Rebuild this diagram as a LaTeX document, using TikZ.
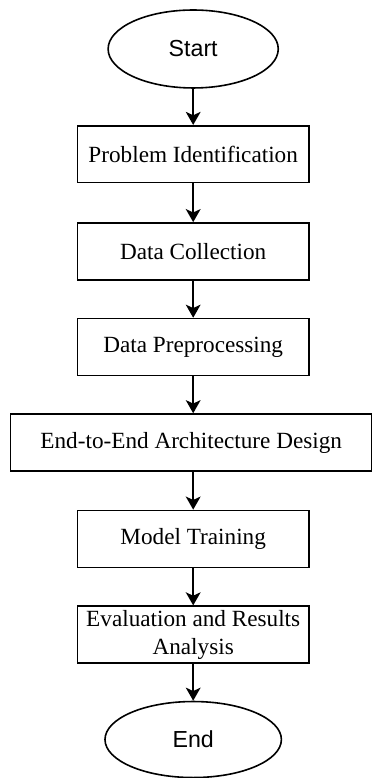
\documentclass[tikz,border=0pt]{standalone}
\usepackage{fontspec}
\setmainfont{Liberation Serif}
\newfontfamily\arialfont{Liberation Sans}
\usetikzlibrary{positioning, shapes.geometric, arrows.meta}

\begin{document}
\begin{tikzpicture}[
  font=\fontsize{11.6}{14}\selectfont,
  stepbox/.style={draw, line width=0.8pt, minimum width=4.06cm, minimum height=1.0cm, align=center, inner sep=1pt},
  terminal/.style={draw, ellipse, line width=0.8pt, font=\arialfont\fontsize{11.6}{14}\selectfont},
  flow/.style={line width=0.8pt, -{Stealth[length=0.23cm, width=0.26cm, inset=0.06cm]}}
]
\useasboundingbox (0,0) rectangle (6.537,-13.672);

% Start
\node[terminal, minimum width=2.99cm, minimum height=1.37cm] (start) at (3.395,-0.861) {Start};

% steps
\node[stepbox] (ident) at (3.395,-2.710) {Problem Identification};
\node[stepbox] (collect) at (3.395,-4.418) {Data Collection};
\node[stepbox] (prep) at (3.395,-6.098) {Data Preprocessing};
\node[stepbox, minimum width=6.344cm] (design) at (3.36,-7.776) {End-to-End Architecture Design};
\node[stepbox] (train) at (3.395,-9.470) {Model Training};
\node[stepbox] (eval) at (3.395,-11.153) {Evaluation and Results\\Analysis};

% End
\node[terminal, minimum width=3.1cm, minimum height=1.336cm] (stop) at (3.395,-12.996) {End};

% arrows
\draw[flow] (start) -- (ident);
\draw[flow] (ident) -- (collect);
\draw[flow] (collect) -- (prep);
\draw[flow] (prep.south) -- (prep.south |- design.north);
\draw[flow] (design.south -| train.north) -- (train);
\draw[flow] (train) -- (eval);
\draw[flow] (eval) -- (stop);
\end{tikzpicture}
\end{document}
